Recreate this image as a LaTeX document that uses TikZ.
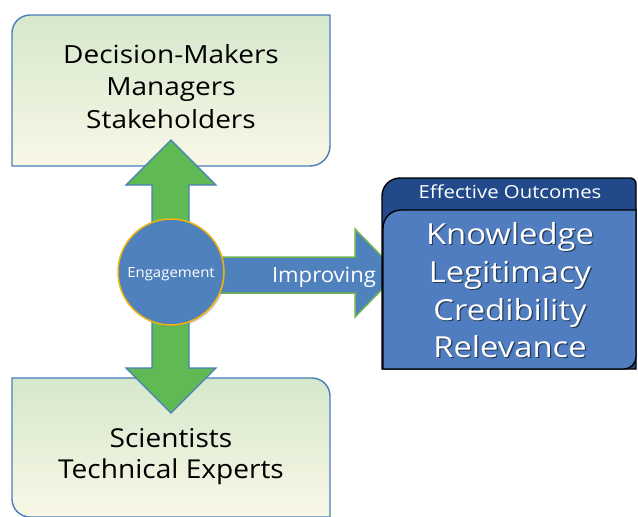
\documentclass[tikz,border=0pt]{standalone}
\usepackage{fontspec}
\setmainfont{Open Sans}
\usetikzlibrary{shadows}
\definecolor{boxblue}{RGB}{74,126,187}
\definecolor{topgreen}{RGB}{213,232,204}
\definecolor{cream}{RGB}{249,247,230}
\definecolor{arrowgreen}{RGB}{96,186,84}
\definecolor{engblue}{RGB}{79,129,189}
\definecolor{gold}{RGB}{240,180,10}
\definecolor{lightgreen}{RGB}{112,182,80}
\definecolor{darknavy}{RGB}{34,74,138}
\definecolor{outblue}{RGB}{79,125,192}
\newcommand{\wide}[2]{\scalebox{#1}[1]{#2}}
\tikzset{
  grbox/.style={draw=boxblue,line width=1.4pt,top color=topgreen,bottom color=cream},
  blacktext/.style={text=black,anchor=base,inner sep=0pt,font=\fontsize{25}{30}\selectfont},
  bigwhite/.style={text=white,anchor=base,inner sep=0pt,font=\fontsize{29}{34}\selectfont},
  bigshadow/.style={text=black,opacity=0.55,anchor=base,inner sep=0pt,font=\fontsize{29}{34}\selectfont},
}
\begin{document}
\begin{tikzpicture}[x=1pt,y=1pt]
\useasboundingbox (0,0) rectangle (638,-517);
% top box
\path[grbox] (12,-166) -- (12,-33) arc[start angle=180,end angle=90,radius=18pt] -- (330,-15) -- (330,-146) arc[start angle=0,end angle=-90,radius=20pt] -- cycle;
\node[blacktext] (top1) at (171,-63) {\wide{1.12}{Decision-Makers}};
\node[blacktext] (top2) at (171,-95) {\wide{1.12}{Managers}};
\node[blacktext] (top3) at (171,-128) {\wide{1.12}{Stakeholders}};
% bottom box
\path[grbox] (12,-378) -- (312,-378) arc[start angle=90,end angle=0,radius=18pt] -- (330,-517) -- (30,-517) arc[start angle=270,end angle=180,radius=18pt] -- cycle;
\node[blacktext,font=\fontsize{26}{30}\selectfont] (bot1) at (171,-447) {\wide{1.08}{Scientists}};
\node[blacktext,font=\fontsize{26}{30}\selectfont] (bot2) at (171,-478) {\wide{1.08}{Technical Experts}};
% right arrow
\path[fill=engblue,draw=lightgreen,line width=1.5pt] (200,-257) -- (355,-257) -- (355,-229) -- (398,-273) -- (355,-317) -- (355,-293) -- (200,-293) -- cycle;
\node[text=white,anchor=base,inner sep=0pt,font=\fontsize{21}{24}\selectfont] (impr) at (324,-282) {\wide{1.05}{Improving}};
% double arrow
\path[fill=arrowgreen,draw=boxblue,line width=1.4pt] (171,-140) -- (216,-185) -- (189,-185) -- (189,-368) -- (216,-368) -- (171,-413) -- (126,-368) -- (152,-368) -- (152,-185) -- (126,-185) -- cycle;
% circle
\node[circle,minimum size=106pt,inner sep=0pt,fill=engblue,draw=gold,line width=1.5pt,drop shadow={shadow xshift=1.5pt,shadow yshift=-1.5pt,opacity=0.4}] (eng) at (171,-272) {};
\node[text=white,anchor=base,inner sep=0pt,font=\fontsize{14}{16}\selectfont] (engtxt) at (171,-277) {\wide{1.07}{Engagement}};
% outcomes box
\path[fill=darknavy,draw=black,line width=1.4pt] (382,-369) -- (382,-196) arc[start angle=180,end angle=90,radius=18pt] -- (630,-178) arc[start angle=90,end angle=0,radius=6pt] -- (636,-184) -- (636,-369) -- cycle;
\node[text=white,anchor=base,inner sep=0pt,font=\fontsize{18}{20}\selectfont] (eff) at (510,-198) {\wide{1.13}{Effective Outcomes}};
\path[fill=outblue,draw=black,line width=1.4pt] (383,-369) -- (383,-228) arc[start angle=180,end angle=90,radius=18pt] -- (636,-210) -- (636,-357) arc[start angle=0,end angle=-90,radius=12pt] -- cycle;
\foreach \t/\y [count=\i] in {Knowledge/244,Legitimacy/282,Credibility/320,Relevance/357}{
  \node[bigshadow] (s\i) at (511.2,-\y-1.2) {\wide{1.13}{\t}};
  \node[bigwhite] (w\i) at (510,-\y) {\wide{1.13}{\t}};
}
\end{tikzpicture}
\end{document}
